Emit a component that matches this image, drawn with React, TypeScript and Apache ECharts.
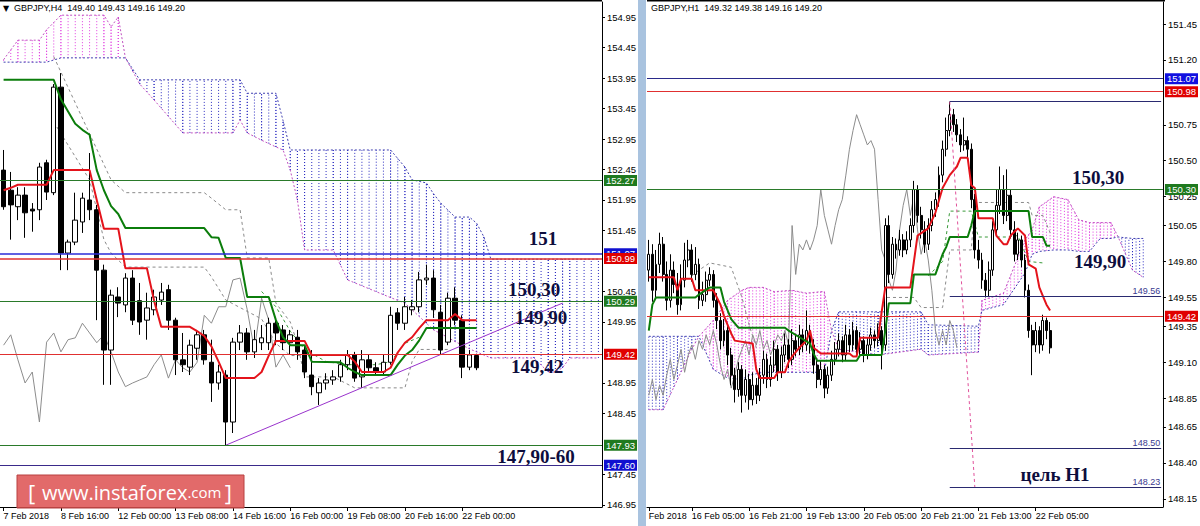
import React, { useEffect, useRef } from 'react';
import * as echarts from 'echarts';

// ---------------- LEFT PANEL (GBPJPY H4) ----------------
const leftTicks: Record<number, string> = {
  0: '7 Feb 2018', 8: '8 Feb 16:00', 16: '12 Feb 00:00', 24: '13 Feb 08:00', 32: '14 Feb 16:00',
  40: '16 Feb 00:00', 48: '19 Feb 08:00', 56: '20 Feb 16:00', 64: '22 Feb 00:00',
};
const leftSlots = 84;
const leftYTicks = [154.95, 154.45, 153.95, 153.45, 152.95, 152.45, 151.95, 151.45, 150.45, 149.95, 148.95, 148.45, 147.45, 146.95];

const leftOpen = [152.44,152.11,151.84,152.03,151.80,151.79,152.56,152.07,153.80,151.08, 151.26,151.59,151.95,151.79,150.80,149.49,150.36,150.23,150.67,150.30, 149.98,150.15,150.31,150.48,149.98,149.33,149.21,149.52,149.74,149.29, 148.95,149.08,148.31,149.62,149.77,149.46,149.61,149.61,149.93,149.82, 149.61,149.70,149.49,149.08,148.79,148.95,149.00,149.05,149.25,149.41, 149.05,149.33,149.20,149.13,149.29,150.10,149.93,150.15,150.20,150.64, 150.67,150.11,149.62,150.34,149.98,149.21,149.40];
const leftHigh = [152.77,152.41,152.16,152.16,151.90,152.56,152.61,153.85,154.03,151.30, 152.07,152.07,152.72,151.87,150.89,150.48,150.52,150.75,150.80,150.59, 150.43,150.48,150.59,150.56,150.02,149.77,149.66,149.82,149.82,149.66, 149.25,149.16,149.69,149.90,149.85,149.82,149.90,150.02,149.98,149.90, 149.82,149.82,149.57,149.49,149.03,149.11,149.16,149.33,149.49,149.46, 149.49,149.41,149.29,149.41,150.20,150.18,150.36,150.31,150.77,150.89, 150.80,150.23,150.43,150.52,150.06,149.49,149.43];
const leftLow = [151.79,151.30,151.62,151.33,151.43,151.62,151.95,152.03,150.80,150.80, 151.21,151.41,151.62,149.98,148.92,148.92,150.03,150.11,149.90,149.74, 149.66,150.06,150.23,149.82,149.08,149.13,149.08,149.33,149.25,148.64, 148.84,147.93,148.13,149.49,149.33,149.36,149.49,149.49,149.57,149.49, 149.41,149.33,149.03,148.75,148.59,148.84,148.92,148.97,149.16,148.97, 148.87,149.13,149.07,149.07,149.25,149.82,149.82,150.06,150.11,150.56, 150.02,149.41,149.57,149.90,149.03,149.16,149.16];
const leftClose = [151.84,151.87,152.03,151.74,151.77,152.49,152.08,153.80,151.08,151.26, 151.62,151.98,151.79,150.80,149.49,150.39,150.26,150.67,149.98,149.95, 150.18,150.36,150.44,149.98,149.33,149.25,149.57,149.74,149.33,148.95, 149.13,148.31,149.62,149.77,149.46,149.66,149.69,149.93,149.77,149.61, 149.74,149.46,149.13,148.89,148.95,149.00,149.05,149.25,149.41,149.03, 149.33,149.20,149.13,149.29,150.06,149.93,150.20,150.20,150.64,150.67, 150.15,149.49,150.34,149.98,149.21,149.41,149.20];

const leftTenkan = [[0,152.11],[1,152.15],[2,152.20],[6,152.20],[7,152.44],[12,152.44],[13,151.95],[14,151.48],[16,151.48],[17,150.83],[20,150.83],[21,150.30],[22,149.87],[26,149.87],[27,149.80],[28,149.72],[29,149.55],[30,149.30],[31,149.03],[35,149.03],[36,149.13],[37,149.40],[38,149.64],[42,149.64],[43,149.41],[48,149.41],[49,149.30],[50,149.13],[53,149.13],[54,149.20],[55,149.45],[56,149.61],[57,149.70],[58,149.85],[59,149.98],[62,149.98],[63,150.08],[64,149.98],[66,149.98]];
const leftKijun = [[0,153.92],[7,153.92],[8,153.60],[9,153.40],[10,153.20],[11,153.10],[12,153.02],[13,152.44],[14,152.11],[15,151.85],[16,151.72],[17,151.49],[28,151.49],[29,151.34],[30,151.33],[31,151.00],[33,151.00],[34,150.36],[37,150.36],[38,149.98],[39,149.70],[40,149.57],[42,149.57],[43,149.30],[47,149.29],[48,149.20],[49,149.13],[50,149.08],[54,149.08],[55,149.25],[56,149.40],[57,149.49],[58,149.65],[59,149.85],[66,149.85]];
const leftGreyDash1 = [[7,154.30],[15,152.28],[17,152.07],[28,152.07],[29,151.98],[31,151.79],[33,151.79],[34,151.00],[37,151.00],[38,150.26],[40,149.95],[41,149.60],[42,149.05],[46,149.05],[49,148.87],[56,148.87],[57,149.30],[58,149.50],[62,149.50]];
const leftGreyDash2 = [[7,153.23],[12,152.28],[14,151.30],[15,151.08],[17,150.85],[28,150.85],[29,150.69],[31,150.31],[36,150.00],[38,149.60],[40,149.40],[43,149.40]];
const leftGreenDash = [[36,150.45],[38,150.20],[40,149.80],[42,149.50],[45,149.30],[48,149.25],[52,149.25],[54,149.30],[56,149.60],[58,149.70]];
const leftCloudIdx = [0,2,5,6,8,14,15,16,17,19,21,25,32,33,34,36,38,39,40,41,42,46,48,54,56,57,59,60,61,63,64,65,66,67,68,74,76,77,78,79,83];
const leftSpanA = [154.25,154.57,154.57,154.74,154.98,154.98,154.79,154.95,154.28,153.85,153.59,153.05,153.05,153.26,153.05,152.93,152.82,152.77,152.44,151.95,151.13,151.13,150.64,150.35,150.26,150.15,149.93,149.82,149.76,149.63,149.57,149.51,149.46,149.41,149.36,149.36,149.13,149.13,149.20,149.36,149.36];
const leftSpanB = [154.21,154.21,154.21,154.21,154.28,154.28,154.28,154.28,154.28,153.92,153.92,153.92,153.92,153.92,153.70,153.70,153.70,153.25,152.77,152.77,152.77,152.77,152.77,152.77,152.49,152.28,152.23,152.05,151.90,151.67,151.67,151.67,151.57,151.35,150.98,150.98,150.98,150.98,150.98,150.98,150.98];
const leftTrend = [[31,147.93],[78,150.26]];

// ---------------- RIGHT PANEL (GBPJPY H1) ----------------
const rightTicks: Record<number, string> = {
  0: 'Feb 2018', 12: '16 Feb 05:00', 28: '16 Feb 21:00', 44: '19 Feb 13:00', 60: '20 Feb 05:00',
  76: '20 Feb 21:00', 92: '21 Feb 13:00', 108: '22 Feb 05:00',
};
const rightSlots = 144;
const rightYTicks = [151.45, 151.20, 150.75, 150.50, 150.25, 150.05, 149.80, 149.55, 149.35, 149.10, 148.85, 148.65, 148.40, 148.15];

const rightOpen = [149.74,149.85,149.60,149.78,149.92,149.71,149.53,149.74,149.64,149.50, 149.67,149.81,149.88,149.71,149.78,149.53,149.57,149.67,149.71,149.53, 149.39,149.25,149.32,149.15,149.01,148.91,149.05,148.87,148.98,148.84, 148.94,148.87,149.01,149.12,148.98,149.08,149.19,149.03,149.15,149.22, 149.12,149.25,149.19,149.29,149.22,149.32,149.22,149.08,148.98,149.05, 148.92,149.01,149.12,149.19,149.25,149.15,149.29,149.22,149.32,149.19, 149.25,149.15,149.22,149.29,149.25,149.32,149.22,150.05,149.71,149.92, 149.88,149.95,149.88,149.95,150.05,150.30,150.12,150.02,149.92,150.05, 150.16,150.23,150.40,150.58,150.71,150.82,150.75,150.68,150.61,150.64, 150.58,150.23,149.88,149.81,149.67,149.60,149.74,150.02,150.19,150.30, 150.12,150.26,150.02,149.85,149.95,149.81,149.60,149.32,149.22,149.32, 149.22,149.39,149.32];
const rightHigh = [149.95,149.92,149.88,150.00,149.97,149.80,149.85,149.80,149.72,149.78, 149.93,149.95,149.92,149.90,149.82,149.66,149.73,149.76,149.74,149.58, 149.44,149.40,149.35,149.20,149.06,149.10,149.08,149.05,149.02,149.03, 148.99,149.06,149.18,149.16,149.14,149.25,149.22,149.21,149.30,149.26, 149.33,149.29,149.36,149.33,149.46,149.36,149.26,149.13,149.11,149.08, 149.07,149.18,149.24,149.30,149.28,149.36,149.33,149.38,149.35,149.31, 149.28,149.27,149.34,149.32,149.37,149.35,150.10,150.12,149.97,149.96, 150.02,149.99,150.01,150.10,150.36,150.33,150.18,150.08,150.10,150.22, 150.28,150.46,150.64,150.80,150.91,150.86,150.79,150.72,150.80,150.67, 150.62,150.27,149.95,149.86,149.72,149.80,150.08,150.30,150.46,150.40, 150.44,150.30,150.08,150.00,149.98,149.85,149.64,149.36,149.38,149.35, 149.43,149.41,149.38];
const rightLow = [149.66,149.52,149.55,149.72,149.66,149.46,149.48,149.58,149.43,149.46, 149.62,149.76,149.66,149.67,149.47,149.49,149.52,149.63,149.48,149.33, 149.19,149.21,149.08,148.94,148.82,148.86,148.75,148.82,148.77,148.80, 148.81,148.83,148.95,148.92,148.93,149.03,148.97,148.99,149.10,149.06, 149.08,149.14,149.15,149.17,149.18,149.16,149.02,148.92,148.94,148.85, 148.88,148.97,149.08,149.14,149.10,149.11,149.17,149.18,149.14,149.15, 149.10,149.12,149.18,149.20,149.21,149.05,149.18,149.65,149.68,149.82, 149.84,149.83,149.85,149.90,150.00,150.07,149.96,149.86,149.88,150.01, 150.11,150.18,150.35,150.53,150.67,150.70,150.63,150.56,150.57,150.52, 150.17,149.82,149.75,149.61,149.55,149.56,149.70,149.97,150.13,150.06, 150.08,149.96,149.80,149.81,149.76,149.55,149.27,149.01,149.17,149.16, 149.18,149.26,149.16];
const rightClose = [149.85,149.60,149.78,149.92,149.71,149.53,149.74,149.64,149.50,149.67, 149.81,149.88,149.71,149.78,149.53,149.57,149.67,149.71,149.53,149.39, 149.25,149.32,149.15,149.01,148.91,149.05,148.87,148.98,148.84,148.94, 148.87,149.01,149.12,148.98,149.08,149.19,149.03,149.15,149.22,149.12, 149.25,149.19,149.29,149.22,149.32,149.22,149.08,148.98,149.05,148.92, 149.01,149.12,149.19,149.25,149.15,149.29,149.22,149.32,149.19,149.25, 149.15,149.22,149.29,149.25,149.32,149.22,150.05,149.71,149.92,149.88, 149.95,149.88,149.95,150.05,150.30,150.12,150.02,149.92,150.05,150.16, 150.23,150.40,150.58,150.71,150.82,150.75,150.68,150.61,150.64,150.58, 150.23,149.88,149.81,149.67,149.60,149.74,150.02,150.19,150.30,150.12, 150.26,150.02,149.85,149.95,149.81,149.60,149.32,149.22,149.32,149.22, 149.39,149.32,149.20];

const rightTenkan = [[0,149.69],[7,149.69],[8,149.60],[9,149.68],[12,149.68],[13,149.60],[18,149.60],[19,149.55],[20,149.50],[21,149.42],[22,149.36],[23,149.30],[24,149.25],[29,149.23],[30,149.05],[31,148.99],[35,148.99],[36,149.03],[38,149.03],[39,149.10],[40,149.14],[42,149.20],[44,149.25],[45,149.32],[46,149.20],[48,149.16],[56,149.16],[57,149.14],[58,149.14],[59,149.27],[64,149.27],[65,149.45],[66,149.62],[73,149.62],[74,149.80],[75,149.98],[78,150.03],[80,150.14],[82,150.31],[84,150.40],[86,150.46],[87,150.52],[89,150.52],[90,150.33],[91,150.31],[92,150.10],[96,150.10],[97,149.98],[99,149.92],[100,149.92],[101,149.98],[103,150.03],[105,149.98],[106,149.78],[108,149.75],[109,149.62],[110,149.56],[111,149.50],[112,149.46]];
const rightKijun = [[0,149.32],[1,149.50],[2,149.55],[13,149.55],[14,149.57],[17,149.62],[20,149.62],[21,149.52],[22,149.46],[23,149.40],[24,149.37],[25,149.34],[38,149.34],[39,149.32],[45,149.23],[46,149.16],[47,149.11],[58,149.11],[59,149.15],[65,149.15],[66,149.32],[67,149.51],[73,149.51],[74,149.71],[80,149.71],[82,149.85],[83,149.90],[84,149.97],[89,149.97],[90,150.05],[91,150.15],[106,150.15],[107,149.97],[110,149.97],[111,149.91],[112,149.91]];
const rightGreyDash1 = [[12,149.70],[14,149.74],[17,149.79],[23,149.76],[26,149.55],[28,149.36],[30,149.20]];
const rightGreyDash2 = [[64,149.36],[66,149.55],[74,149.55],[76,149.48],[82,149.48],[84,149.88],[90,149.88],[91,150.21],[106,150.21],[107,150.12],[110,150.12],[112,150.00]];
const rightGreenDash = [[78,149.70],[82,149.80],[84,150.15],[90,150.15],[92,149.97],[100,149.97],[103,149.98],[106,149.80],[110,149.79]];
const rightCloudIdx = [0,4,8,12,14,18,22,26,28,32,35,40,44,48,49,51,53,64,76,78,92,93,99,105,107,109,113,117,120,123,126,129,131,135,138];
const rightSpanA = [148.77,148.77,148.98,149.19,149.28,149.39,149.53,149.60,149.62,149.62,149.59,149.60,149.58,149.59,149.59,149.32,149.19,149.15,149.19,149.15,149.17,149.53,149.58,149.95,150.02,150.18,150.25,150.23,150.09,150.07,150.07,150.07,149.97,149.74,149.69];
const rightSpanB = [149.28,149.28,149.28,149.28,149.28,149.05,148.99,148.98,149.01,149.03,149.03,149.03,149.03,149.03,149.03,149.32,149.45,149.45,149.45,149.36,149.35,149.46,149.50,149.72,149.85,149.87,149.88,149.88,149.87,149.87,149.96,149.96,149.97,149.96,149.96];
const rightTarget = [[84,150.91],[91,148.23]];

// ---------------- helpers ----------------
const FONT = 'Liberation Sans, DejaVu Sans, sans-serif';
const RED = '#e4131b';
const GREEN = '#0b7d0b';
const MAG = '#e03ee0';
const BLUE = '#2b2bc0';

function cloudData(idx: number[], a: number[], b: number[]) {
  const out: number[][] = [];
  for (let k = 0; k < idx.length - 1; k++) out.push([idx[k], a[k], b[k], idx[k + 1], a[k + 1], b[k + 1]]);
  return out;
}

function cloudSeries(grid: number, idx: number[], a: number[], b: number[]) {
  return {
    type: 'custom', xAxisIndex: grid, yAxisIndex: grid, z: 1, silent: true,
    data: cloudData(idx, a, b),
    encode: { x: 0, y: 1 },
    renderItem: (params: any, api: any) => {
      const i0 = api.value(0), a0 = api.value(1), b0 = api.value(2);
      const i1 = api.value(3), a1 = api.value(4), b1 = api.value(5);
      const children: any[] = [];
      for (let k = i0; k <= i1; k++) {
        const t = i1 === i0 ? 0 : (k - i0) / (i1 - i0);
        const av = a0 + (a1 - a0) * t;
        const bv = b0 + (b1 - b0) * t;
        const pa = api.coord([k, av]);
        const pb = api.coord([k, bv]);
        children.push({
          type: 'line',
          shape: { x1: pa[0], y1: pa[1], x2: pb[0], y2: pb[1] },
          style: { stroke: av >= bv ? MAG : BLUE, lineWidth: 1, lineDash: [1, 2] },
        });
      }
      return { type: 'group', children };
    },
  };
}

function lineSeries(grid: number, data: number[][], color: string, width: number, dash?: number[], z = 4) {
  return {
    type: 'line', xAxisIndex: grid, yAxisIndex: grid, data, showSymbol: false, symbol: 'none', silent: true, z,
    lineStyle: { color, width, type: dash ? dash : 'solid' },
  };
}

function hLine(v: number, color: string, bg: string, width = 1) {
  return {
    yAxis: v,
    lineStyle: { color, width, type: 'solid' },
    label: {
      show: true, position: 'end', formatter: v.toFixed(2), color: '#fff', backgroundColor: bg,
      padding: [1, 2, 0, 2], fontSize: 9.5, fontFamily: FONT, distance: 2,
    },
  };
}
function priceTag(v: number) {
  return {
    yAxis: v,
    lineStyle: { opacity: 0, width: 0 },
    label: {
      show: true, position: 'end', formatter: v.toFixed(2), color: '#fff', backgroundColor: '#000',
      padding: [1, 2, 0, 2], fontSize: 9.5, fontFamily: FONT, distance: 2,
    },
  };
}
function seg(v: number, from: number, to: number, showLabel: boolean) {
  return [
    {
      coord: [from, v],
      lineStyle: { color: '#2a2a70', width: 1, type: 'solid' },
      label: {
        show: showLabel, position: 'insideEndTop', formatter: v.toFixed(2), color: '#3a3a90',
        fontSize: 9, fontFamily: FONT, distance: 1,
      },
    },
    { coord: [to, v] },
  ];
}

function xAxisCfg(grid: number, slots: number, ticks: Record<number, string>) {
  const cats = Array.from({ length: slots }, (_, i) => String(i));
  const show = (i: number) => ticks[i] !== undefined;
  return {
    type: 'category', gridIndex: grid, data: cats, boundaryGap: true,
    axisLine: { show: true, lineStyle: { color: '#000', width: 1 } },
    axisTick: { show: true, alignWithLabel: true, interval: (i: number) => show(i), length: 4, lineStyle: { color: '#000' } },
    axisLabel: {
      show: true, interval: (i: number) => show(i), formatter: (_v: string, i: number) => ticks[i] || '',
      align: 'left', color: '#000', fontSize: 9, fontFamily: FONT, margin: 4,
    },
    splitLine: { show: false },
  };
}
function yAxisCfg(grid: number, min: number, max: number, ticks: number[]) {
  return {
    type: 'value', gridIndex: grid, position: 'right', min, max, scale: true,
    axisLine: { show: true, lineStyle: { color: '#000', width: 1 } },
    axisTick: { show: true, length: 3, customValues: ticks, lineStyle: { color: '#000' } },
    axisLabel: {
      show: true, customValues: ticks, formatter: (v: number) => v.toFixed(2),
      color: '#000', fontSize: 9.5, fontFamily: FONT, margin: 5,
    },
    splitLine: { show: false },
  };
}

function buildOption() {
  const leftCandles = leftOpen.map((o, i) => [o, leftClose[i], leftLow[i], leftHigh[i]]);
  const rightCandles = rightOpen.map((o, i) => [o, rightClose[i], rightLow[i], rightHigh[i]]);
  const leftChikou = leftClose.slice(26).map((v, i) => [i, v]);
  const rightChikou = rightClose.slice(26).map((v, i) => [i, v]);
  const spanLine = (idx: number[], vals: number[]) => idx.map((x, k) => [x, vals[k]]);

  const annot = (text: string, x: number, y: number) => ({
    type: 'text', x, y, z: 100, silent: true,
    style: {
      text, font: 'bold 19px "Liberation Serif", "DejaVu Serif", serif', fill: '#0d0d3d',
      align: 'center', verticalAlign: 'middle', textAlign: 'center', textVerticalAlign: 'middle',
    },
  });

  return {
    animation: false,
    backgroundColor: '#ffffff',
    grid: [
      { left: -4, top: 2, width: 606, height: 505, containLabel: false },
      { left: 647, top: 2, width: 518, height: 505, containLabel: false },
    ],
    xAxis: [xAxisCfg(0, leftSlots, leftTicks), xAxisCfg(1, rightSlots, rightTicks)],
    yAxis: [yAxisCfg(0, 146.917, 155.196, leftYTicks), yAxisCfg(1, 148.094, 151.603, rightYTicks)],
    series: [
      cloudSeries(0, leftCloudIdx, leftSpanA, leftSpanB),
      lineSeries(0, spanLine(leftCloudIdx, leftSpanA), '#c050c0', 1, [2, 2], 2),
      lineSeries(0, spanLine(leftCloudIdx, leftSpanB), '#4040b0', 1, [2, 2], 2),
      lineSeries(0, leftGreyDash1, '#8a8a8a', 1, [3, 3], 2),
      lineSeries(0, leftGreyDash2, '#8a8a8a', 1, [3, 3], 2),
      lineSeries(0, leftGreenDash, '#3a9a3a', 1, [3, 3], 2),
      lineSeries(0, leftChikou, '#8c8c8c', 1, undefined, 2),
      {
        type: 'candlestick', xAxisIndex: 0, yAxisIndex: 0, data: leftCandles, barWidth: 5, z: 3, silent: true,
        itemStyle: { color: '#ffffff', color0: '#000000', borderColor: '#000000', borderColor0: '#000000', borderWidth: 1 },
        markLine: {
          symbol: ['none', 'none'], silent: true, animation: false, z: 5,
          data: [
            hLine(152.27, '#2a7a2a', '#1f7a1f'),
            hLine(151.07, '#2b2bd9', '#1010d0', 1.5),
            hLine(150.99, '#e03030', '#e00000', 1.5),
            hLine(150.29, '#2a7a2a', '#1f7a1f'),
            hLine(149.42, '#e03030', '#e00000'),
            priceTag(149.20),
            hLine(147.93, '#2a7a2a', '#1f7a1f'),
            hLine(147.60, '#3a2a8a', '#1010d0'),
          ],
        },
      },
      lineSeries(0, leftTenkan, RED, 2),
      lineSeries(0, leftKijun, GREEN, 2),
      lineSeries(0, leftTrend, '#9933cc', 1),

      cloudSeries(1, rightCloudIdx, rightSpanA, rightSpanB),
      lineSeries(1, spanLine(rightCloudIdx, rightSpanA), '#c050c0', 1, [2, 2], 2),
      lineSeries(1, spanLine(rightCloudIdx, rightSpanB), '#4040b0', 1, [2, 2], 2),
      lineSeries(1, rightGreyDash1, '#8a8a8a', 1, [3, 3], 2),
      lineSeries(1, rightGreyDash2, '#8a8a8a', 1, [3, 3], 2),
      lineSeries(1, rightGreenDash, '#3a9a3a', 1, [3, 3], 2),
      lineSeries(1, rightChikou, '#8c8c8c', 1, undefined, 2),
      {
        type: 'candlestick', xAxisIndex: 1, yAxisIndex: 1, data: rightCandles, barWidth: 2.4, z: 3, silent: true,
        itemStyle: { color: '#ffffff', color0: '#000000', borderColor: '#000000', borderColor0: '#000000', borderWidth: 1 },
        markLine: {
          symbol: ['none', 'none'], silent: true, animation: false, z: 5,
          data: [
            hLine(151.07, '#2a2a8a', '#1010e0'),
            hLine(150.98, '#e03030', '#e00000'),
            hLine(150.30, '#2a7a2a', '#1f7a1f'),
            hLine(149.42, '#e03030', '#e00000'),
            priceTag(149.20),
            seg(150.91, 84, 143, false),
            seg(149.56, 84, 143, true),
            seg(148.50, 84, 143, true),
            seg(148.23, 84, 143, true),
          ],
        },
      },
      lineSeries(1, rightTenkan, RED, 2),
      lineSeries(1, rightKijun, GREEN, 2),
      lineSeries(1, rightTarget, '#e0509a', 1, [3, 3]),
    ],
    graphic: [
      { type: 'rect', shape: { x: 0, y: 0, width: 602, height: 1.5 }, style: { fill: '#000' }, z: 50, silent: true },
      { type: 'rect', shape: { x: 647, y: 0, width: 518, height: 1.5 }, style: { fill: '#000' }, z: 50, silent: true },
      { type: 'rect', shape: { x: 638, y: 0, width: 8, height: 526 }, style: { fill: '#a9c3df' }, z: 50, silent: true },
      {
        type: 'text', x: 3, y: 8, z: 60, silent: true,
        style: { text: '▼', font: '8px "DejaVu Sans", sans-serif', fill: '#000', verticalAlign: 'middle', textVerticalAlign: 'middle' },
      },
      {
        type: 'text', x: 14, y: 8, z: 60, silent: true,
        style: { text: 'GBPJPY,H4  149.40 149.43 149.16 149.20', font: '9px ' + FONT, fill: '#000', verticalAlign: 'middle', textVerticalAlign: 'middle' },
      },
      {
        type: 'text', x: 651, y: 8, z: 60, silent: true,
        style: { text: 'GBPJPY,H1  149.32 149.38 149.16 149.20', font: '9px ' + FONT, fill: '#000', verticalAlign: 'middle', textVerticalAlign: 'middle' },
      },
      annot('151', 543, 238),
      annot('150,30', 534, 289),
      annot('149,90', 541, 317),
      annot('149,42', 537, 366),
      annot('147,90-60', 536, 456),
      annot('150,30', 1098, 177),
      annot('149,90', 1100, 261),
      annot('цель H1', 1055, 474),
      {
        type: 'rect', shape: { x: 17, y: 475, width: 227, height: 33 }, z: 80, silent: true,
        style: { fill: 'rgba(221, 80, 80, 0.85)', stroke: '#b84040', lineWidth: 1 },
      },
      {
        type: 'text', x: 130, y: 492, z: 81, silent: true,
        style: {
          text: '{b|[}  {a|www.instaforex}{c|.com} {b|]}',
          rich: {
            a: { fontSize: 20, fontFamily: 'Open Sans, Liberation Sans, sans-serif', fill: '#fff', color: '#fff' },
            b: { fontSize: 22, fontFamily: 'Open Sans, Liberation Sans, sans-serif', fill: '#fff', color: '#fff' },
            c: { fontSize: 15, fontFamily: 'Open Sans, Liberation Sans, sans-serif', fill: '#fff', color: '#fff' },
          },
          fill: '#ffffff',
          align: 'center', verticalAlign: 'middle', textAlign: 'center', textVerticalAlign: 'middle',
        },
      },
    ],
  };
}

export default function App() {
  const ref = useRef<HTMLDivElement>(null);
  useEffect(() => {
    if (!ref.current) return;
    const chart = echarts.init(ref.current, null, { renderer: 'svg' });
    chart.setOption(buildOption() as any);
    return () => chart.dispose();
  }, []);
  return (
    <div
      ref={ref}
      style={{ position: 'fixed', left: 0, top: 0, width: 1200, height: 526, background: '#ffffff' }}
    />
  );
}
